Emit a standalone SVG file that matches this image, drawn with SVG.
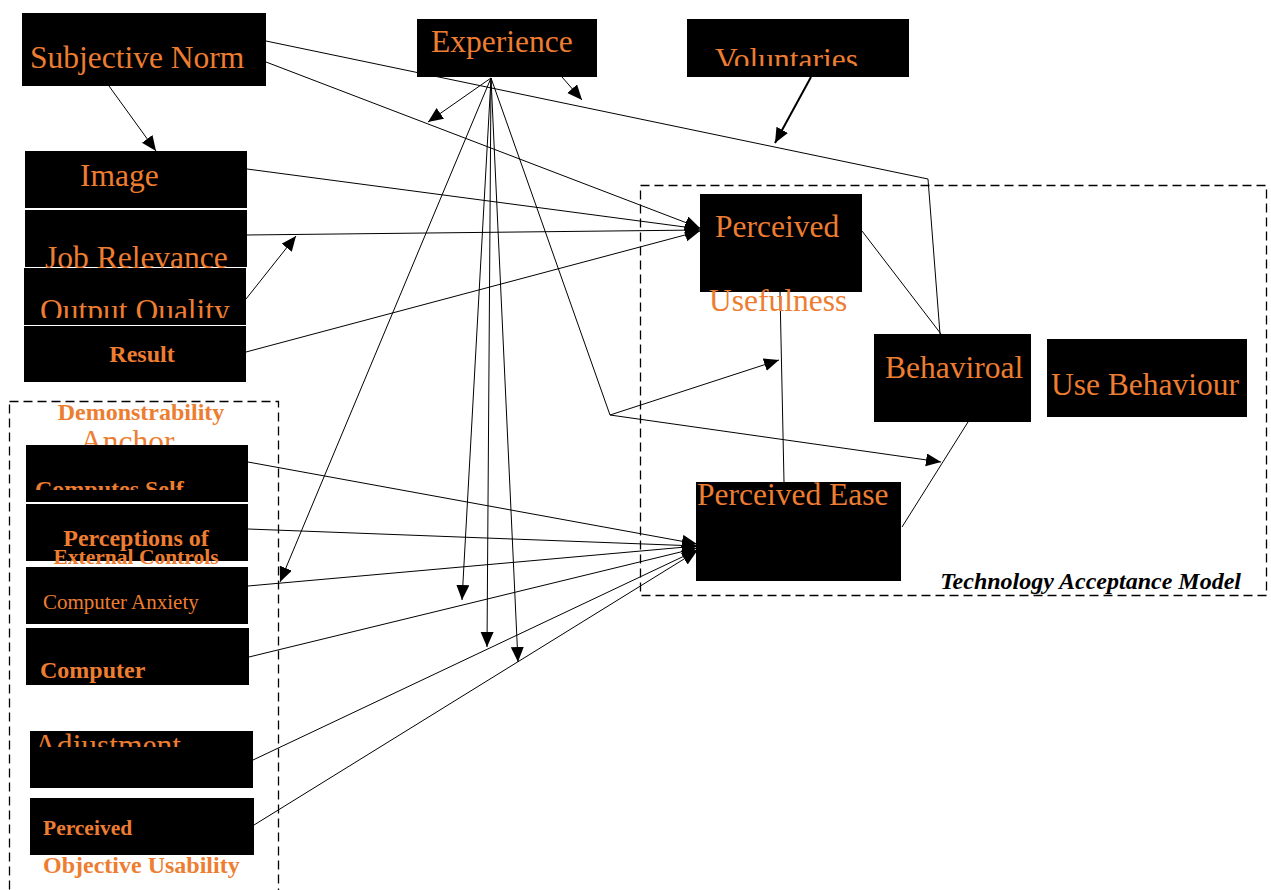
<svg xmlns="http://www.w3.org/2000/svg" width="1271" height="890" viewBox="0 0 1271 890">
<style>
.box{fill:#000;}
.t{font-family:"Liberation Serif","Times New Roman",serif;fill:#ED7D31;}
.lg{font-size:31.5px;}
.bd{font-size:24px;font-weight:bold;}
.md{font-size:21px;}
.c{stroke:#000;stroke-width:1;fill:none;}
.ca{stroke:#000;stroke-width:1;fill:none;marker-end:url(#ah);}
.dash{fill:none;stroke:#000;stroke-width:1.3;stroke-dasharray:9 5;}
</style>
<defs>
<marker id="ah" markerUnits="userSpaceOnUse" markerWidth="16" markerHeight="14" refX="15" refY="6.5" orient="auto">
<path d="M0,0 L15,6.5 L0,13 z" fill="#000"/>
</marker>
<clipPath id="clipVol"><rect x="680" y="0" width="240" height="66"/></clipPath>
<clipPath id="clipOQ"><rect x="0" y="260" width="260" height="58"/></clipPath>
<clipPath id="clipCS"><rect x="0" y="440" width="260" height="50"/></clipPath>
<clipPath id="clipAdj"><rect x="0" y="720" width="260" height="27"/></clipPath>
</defs>
<rect width="1271" height="890" fill="#fff"/>

<g id="frames">
<rect class="dash" x="9.5" y="401.5" width="269" height="500"/>
<rect class="dash" x="640.5" y="185.5" width="626" height="410"/>
</g>

<g id="connectors">
<line class="ca" x1="109" y1="86" x2="156" y2="151"/>
<polyline class="c" points="266,41 928,179 940,334"/>
<line class="ca" x1="266" y1="62" x2="700" y2="228"/>
<line class="ca" x1="247" y1="169" x2="700" y2="229"/>
<line class="ca" x1="247" y1="235" x2="700" y2="230"/>
<line class="ca" x1="246" y1="299" x2="296" y2="236"/>
<line class="ca" x1="246" y1="352" x2="700" y2="231"/>
<line class="ca" x1="491" y1="78" x2="428" y2="122"/>
<line class="ca" x1="562" y1="77" x2="582" y2="100"/>
<line class="ca" x1="491" y1="78" x2="280" y2="582"/>
<line class="ca" x1="491" y1="78" x2="462" y2="600"/>
<line class="ca" x1="491" y1="78" x2="487" y2="647"/>
<line class="ca" x1="491" y1="78" x2="518" y2="662"/>
<line class="c" x1="491" y1="78" x2="610" y2="415"/>
<line class="ca" x1="610" y1="415" x2="779" y2="360"/>
<line class="ca" x1="610" y1="415" x2="941" y2="462"/>
<line stroke="#000" stroke-width="2" fill="none" marker-end="url(#ah)" x1="811" y1="77" x2="775" y2="143"/>
<line class="c" x1="862" y1="231" x2="941" y2="334"/>
<line class="c" x1="780" y1="292" x2="784" y2="482"/>
<line class="c" x1="902" y1="527" x2="968" y2="422"/>
<line class="ca" x1="248" y1="462" x2="697" y2="544"/>
<line class="ca" x1="248" y1="529" x2="697" y2="546"/>
<line class="ca" x1="248" y1="586" x2="697" y2="546"/>
<line class="ca" x1="249" y1="657" x2="697" y2="548"/>
<line class="ca" x1="253" y1="760" x2="697" y2="550"/>
<line class="ca" x1="254" y1="825" x2="697" y2="551"/>
</g>

<g id="subjective-norm">
<rect class="box" x="22" y="13" width="244" height="73"/>
<text class="t lg" x="30" y="68">Subjective Norm</text>
</g>
<g id="experience">
<rect class="box" x="417" y="19" width="180" height="58"/>
<text class="t lg" x="431" y="52">Experience</text>
</g>
<g id="voluntaries">
<rect class="box" x="687" y="19" width="222" height="58"/>
<text class="t lg" x="715" y="70" clip-path="url(#clipVol)">Voluntaries</text>
</g>
<g id="image">
<rect class="box" x="25" y="151" width="222" height="57"/>
<text class="t lg" x="80" y="186">Image</text>
</g>
<g id="job-relevance">
<rect class="box" x="25" y="210" width="222" height="57"/>
<text class="t lg" x="45" y="268">Job Relevance</text>
</g>
<g id="output-quality">
<rect class="box" x="24" y="268" width="222" height="57"/>
<text class="t lg" x="40" y="321" clip-path="url(#clipOQ)">Output Quality</text>
</g>
<g id="result">
<rect class="box" x="24" y="326" width="222" height="56"/>
<text class="t bd" x="142" y="362" text-anchor="middle">Result</text>
</g>
<g id="demonstrability-anchor">
<text class="t bd" x="141" y="420" text-anchor="middle">Demonstrability</text>
<text class="t lg" x="80" y="452">Anchor</text>
</g>
<g id="computes-self">
<rect class="box" x="26" y="445" width="222" height="57"/>
<text class="t bd" x="35" y="497" clip-path="url(#clipCS)">Computes Self</text>
</g>
<g id="perceptions-external">
<rect class="box" x="26" y="504" width="222" height="57"/>
<text class="t bd" x="136" y="546" text-anchor="middle">Perceptions of</text>
<text class="t" x="136" y="564" text-anchor="middle" style="font-size:21.5px;font-weight:bold">External Controls</text>
</g>
<g id="computer-anxiety">
<rect class="box" x="26" y="567" width="222" height="57"/>
<text class="t md" x="43" y="609">Computer Anxiety</text>
</g>
<g id="computer">
<rect class="box" x="26" y="628" width="223" height="57"/>
<text class="t bd" x="40" y="678">Computer</text>
</g>
<g id="adjustment">
<rect class="box" x="30" y="731" width="223" height="57"/>
<text class="t lg" x="34" y="756" clip-path="url(#clipAdj)">Adjustment</text>
</g>
<g id="perceived-objective-usability">
<rect class="box" x="30" y="798" width="224" height="57"/>
<text class="t" x="43" y="835" style="font-size:21.5px;font-weight:bold">Perceived</text>
<text class="t bd" x="43" y="873">Objective Usability</text>
</g>

<g id="perceived-usefulness">
<rect class="box" x="700" y="194" width="162" height="98"/>
<text class="t lg" x="715" y="237">Perceived</text>
<text class="t lg" x="709" y="311">Usefulness</text>
</g>
<g id="behavioral">
<rect class="box" x="874" y="334" width="157" height="88"/>
<text class="t lg" x="885" y="378">Behaviroal</text>
</g>
<g id="use-behaviour">
<rect class="box" x="1047" y="339" width="200" height="78"/>
<text class="t lg" x="1051" y="395">Use Behaviour</text>
</g>
<g id="perceived-ease">
<rect class="box" x="696" y="482" width="205" height="99"/>
<text class="t lg" x="697" y="505">Perceived Ease</text>
</g>
<g id="tam-label">
<text x="1241" y="589" text-anchor="end" style="font-family:'Liberation Serif','Times New Roman',serif;font-size:24px;font-weight:bold;font-style:italic;fill:#000">Technology Acceptance Model</text>
</g>
</svg>
